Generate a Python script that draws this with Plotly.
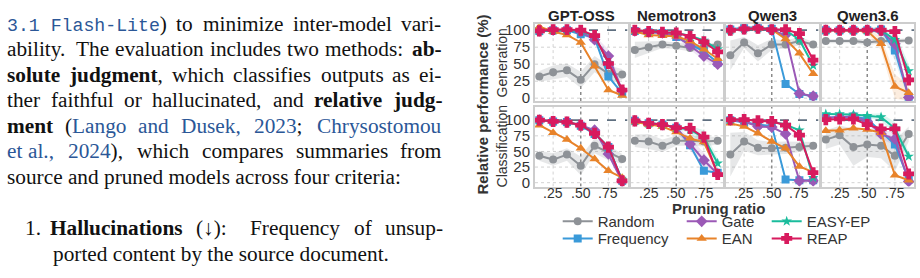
import plotly.graph_objects as go

W, H = 920, 278

# ---------------- data ----------------
ratios = [0.125, 0.25, 0.375, 0.5, 0.625, 0.75, 0.875]
models = ["GPT-OSS", "Nemotron3", "Qwen3", "Qwen3.6"]
methods = ["Random", "Frequency", "Gate", "EAN", "EASY-EP", "REAP"]
x_ticks = [0.25, 0.5, 0.75]
x_tick_text = [".25", ".50", ".75"]
y_ticks = [0, 25, 50, 75, 100]
y_tick_text = ["0", "25", "50", "75", "100"]
row_labels = ["Generation", "Classification"]
reference_level = 100
highlight_ratio = 0.5

gen_gpt_oss = {
    "Random": [32, 38, 41, 27, 50, 36, 35],
    "Frequency": [99, 100, 100, 94, 89, 32, 7],
    "Gate": [99, 100, 100, 98, 86, 62, 11],
    "EAN": [105, 98, 93, 82, 47, 12, 4],
    "EASY-EP": [99, 100, 100, 99, 91, 52, 10],
    "REAP": [99, 101, 101, 100, 92, 51, 12],
}
gen_nemotron = {
    "Random": [71, 75, 79, 77, 74, 76, 79],
    "Frequency": [99, 97, 96, 90, 80, 69, 52],
    "Gate": [99, 97, 96, 92, 77, 62, 50],
    "EAN": [98, 93, 92, 91, 84, 72, 58],
    "EASY-EP": [100, 98, 97, 96, 92, 85, 72],
    "REAP": [100, 98, 97, 96, 91, 83, 68],
}
gen_qwen3 = {
    "Random": [63, 82, 66, 79, 79, 84, 79],
    "Frequency": [101, 104, 104, 102, 21, 6, 3],
    "Gate": [100, 102, 103, 100, 93, 7, 3],
    "EAN": [100, 102, 103, 101, 87, 66, 36],
    "EASY-EP": [100, 102, 103, 101, 100, 86, 48],
    "REAP": [100, 102, 103, 101, 101, 95, 56],
}
gen_qwen36 = {
    "Random": [84, 84, 84, 82, 84, 84, 85],
    "Frequency": [100, 100, 100, 100, 101, 70, 2],
    "Gate": [100, 100, 100, 100, 99, 80, 1],
    "EAN": [100, 100, 100, 99, 80, 17, 8],
    "EASY-EP": [100, 100, 100, 100, 100, 86, 40],
    "REAP": [100, 100, 100, 100, 100, 98, 27],
}
cls_gpt_oss = {
    "Random": [43, 37, 45, 27, 59, 48, 38],
    "Frequency": [100, 98, 97, 91, 78, 57, 3],
    "Gate": [100, 98, 97, 92, 84, 46, 2],
    "EAN": [92, 80, 69, 55, 38, 19, 8],
    "EASY-EP": [100, 98, 97, 92, 80, 57, 4],
    "REAP": [100, 98, 97, 92, 79, 57, 3],
}
cls_nemotron = {
    "Random": [67, 66, 59, 67, 67, 66, 67],
    "Frequency": [99, 95, 93, 88, 60, 19, 16],
    "Gate": [99, 95, 93, 88, 62, 36, 14],
    "EAN": [97, 93, 90, 81, 71, 65, 15],
    "EASY-EP": [99, 95, 93, 88, 85, 72, 31],
    "REAP": [99, 95, 93, 88, 87, 73, 13],
}
cls_qwen3 = {
    "Random": [45, 66, 56, 55, 56, 57, 59],
    "Frequency": [100, 96, 93, 91, 5, 4, 4],
    "Gate": [100, 98, 90, 89, 78, 3, 3],
    "EAN": [95, 90, 79, 66, 55, 26, 17],
    "EASY-EP": [101, 101, 99, 98, 93, 84, 8],
    "REAP": [101, 101, 99, 98, 92, 76, 16],
}
cls_qwen36 = {
    "Random": [69, 76, 57, 61, 59, 43, 78],
    "Frequency": [104, 105, 106, 102, 82, 61, 5],
    "Gate": [104, 105, 106, 98, 78, 70, 2],
    "EAN": [83, 84, 87, 85, 80, 12, 4],
    "EASY-EP": [110, 110, 109, 107, 105, 87, 42],
    "REAP": [101, 102, 102, 93, 86, 86, 14],
}

# band half-widths (spread across runs)
band_gen = {
    ("GPT-OSS", "Random"): [8, 10, 10, 12, 12, 12, 8],
    ("Nemotron3", "Random"): [12, 8, 5, 5, 5, 4, 3],
    ("Qwen3", "Random"): [22, 8, 12, 8, 6, 6, 4],
    ("Qwen3.6", "Random"): [3, 3, 3, 4, 3, 3, 3],
    ("GPT-OSS", "Gate"): [0, 0, 0, 2, 6, 10, 4],
    ("Nemotron3", "Gate"): [0, 0, 0, 3, 6, 6, 4],
    ("Qwen3.6", "EAN"): [0, 0, 0, 3, 10, 18, 12],
    ("Qwen3.6", "EASY-EP"): [0, 0, 0, 2, 6, 12, 10],
    ("Qwen3.6", "Frequency"): [0, 0, 0, 2, 5, 15, 5],
}
band_cls = {
    ("GPT-OSS", "Random"): [8, 10, 10, 15, 12, 12, 8],
    ("Nemotron3", "Random"): [10, 12, 10, 8, 8, 8, 6],
    ("Qwen3", "Random"): [35, 15, 12, 10, 10, 8, 6],
    ("Qwen3.6", "Random"): [15, 15, 30, 20, 20, 25, 12],
    ("Nemotron3", "Gate"): [0, 0, 0, 4, 10, 12, 6],
    ("Nemotron3", "EASY-EP"): [0, 0, 0, 2, 6, 12, 8],
    ("Qwen3.6", "EASY-EP"): [0, 0, 0, 3, 6, 10, 8],
    ("Qwen3.6", "Gate"): [0, 0, 0, 4, 8, 10, 4],
}

rows = [
    {"GPT-OSS": gen_gpt_oss, "Nemotron3": gen_nemotron, "Qwen3": gen_qwen3, "Qwen3.6": gen_qwen36},
    {"GPT-OSS": cls_gpt_oss, "Nemotron3": cls_nemotron, "Qwen3": cls_qwen3, "Qwen3.6": cls_qwen36},
]
bands = [band_gen, band_cls]

# body text of the page (left column); tokens: list of (text, style) runs, style r/b/blue/mono
body_lines = [
    [[("3.1 Flash-Lite", "mono"), (")", "r")], [("to", "r")], [("minimize", "r")],
     [("inter-model", "r")], [("vari-", "r")]],
    [[("ability.", "r")], [("The", "r")], [("evaluation", "r")], [("includes", "r")],
     [("two", "r")], [("methods:", "r")], [("ab-", "b")]],
    [[("solute", "b")], [("judgment", "b"), (",", "r")], [("which", "r")], [("classifies", "r")],
     [("outputs", "r")], [("as", "r")], [("ei-", "r")]],
    [[("ther", "r")], [("faithful", "r")], [("or", "r")], [("hallucinated,", "r")],
     [("and", "r")], [("relative", "b")], [("judg-", "b")]],
    [[("ment", "b")], [("(", "r"), ("Lango", "blue")], [("and", "blue")], [("Dusek,", "blue")],
     [("2023", "blue"), (";", "r")], [("Chrysostomou", "blue")]],
    [[("et", "blue")], [("al.,", "blue")], [("2024", "blue"), ("),", "r")], [("which", "r")],
     [("compares", "r")], [("summaries", "r")], [("from", "r")]],
    [[("source and pruned models across four criteria:", "r")]],
    [[("Hallucinations", "b")], [("(↓):", "r")], [("Frequency", "r")], [("of", "r")],
     [("unsup-", "r")]],
    [[("ported content by the source document.", "r")]],
]
item_number = "1."

# ---------------- styles ----------------
colors = {"Random": "#8e9297", "Frequency": "#3a9ad9", "Gate": "#9b59b6",
          "EAN": "#e8832a", "EASY-EP": "#1abc9c", "REAP": "#d81b5e"}
fills = {"Random": "rgba(142,146,151,0.22)", "Frequency": "rgba(58,154,217,0.15)",
         "Gate": "rgba(155,89,182,0.15)", "EAN": "rgba(232,131,42,0.15)",
         "EASY-EP": "rgba(26,188,156,0.15)", "REAP": "rgba(216,27,94,0.15)"}
symbols = {"Random": "circle", "Frequency": "square", "Gate": "diamond",
           "EAN": "triangle-up", "EASY-EP": "star", "REAP": "cross"}
msize = {"Random": 8, "Frequency": 8, "Gate": 9, "EAN": 9, "EASY-EP": 8, "REAP": 8}
mline = {"Random": 0, "Frequency": 0, "Gate": 0, "EAN": 0, "EASY-EP": 0, "REAP": 1.5}

col_left = [535, 630.5, 726, 821.5]
col_w = 92.5
row_top = [22, 107]
row_bot = [101, 189]
row_range = [[-4.3, 108.6], [-6.2, 121.3]]
x_range = [0.086, 0.923]
SANS = "Liberation Sans, Arial, sans-serif"
SERIF = "Liberation Serif, Times New Roman, serif"
GRID = dict(color="#d2d2d2", width=1, dash="dot")

legend_cols = [557.7, 681.7, 766.7]
legend_rows = [225, 242.7]
legend_slot = {"Random": (0, 0), "Frequency": (0, 1), "Gate": (1, 0),
               "EAN": (1, 1), "EASY-EP": (2, 0), "REAP": (2, 1)}
legend_names = {m: ("legend" if i == 0 else f"legend{i+1}") for i, m in enumerate(methods)}

fig = go.Figure()
layout = dict(width=W, height=H, margin=dict(l=0, r=0, t=0, b=0),
              paper_bgcolor="white", plot_bgcolor="white",
              font=dict(family=SANS, color="#333333", size=15))
shapes = []
annotations = []

for ri in range(2):
    for ci, model in enumerate(models):
        k = ri * 4 + ci + 1
        xr = "x" if k == 1 else f"x{k}"
        yr = "y" if k == 1 else f"y{k}"
        xa = "xaxis" if k == 1 else f"xaxis{k}"
        ya = "yaxis" if k == 1 else f"yaxis{k}"
        layout[xa] = dict(domain=[col_left[ci] / W, (col_left[ci] + col_w) / W], anchor=yr,
                          range=x_range, tickvals=x_ticks, ticktext=x_tick_text,
                          showticklabels=False, ticks="", showgrid=False, zeroline=False,
                          showline=True, mirror=True, linecolor="#cdcdcd", linewidth=2)
        layout[ya] = dict(domain=[1 - row_bot[ri] / H, 1 - row_top[ri] / H], anchor=xr,
                          range=row_range[ri], tickvals=y_ticks, ticktext=y_tick_text,
                          showticklabels=(ci == 0), ticks="", showgrid=False, zeroline=False,
                          showline=True, mirror=True, linecolor="#cdcdcd", linewidth=2,
                          tickfont=dict(size=15, color="#333333"))
        # grid lines (dotted), drawn beneath the data
        for tv in x_ticks:
            if tv != highlight_ratio:
                shapes.append(dict(type="line", xref=xr, yref=yr, x0=tv, x1=tv,
                                   y0=row_range[ri][0], y1=row_range[ri][1],
                                   layer="below", line=GRID))
        for tv in y_ticks:
            if tv != reference_level:
                shapes.append(dict(type="line", xref=xr, yref=yr, x0=x_range[0], x1=x_range[1],
                                   y0=tv, y1=tv, layer="below", line=GRID))
        shapes.append(dict(type="line", xref=xr, x0=highlight_ratio, x1=highlight_ratio, yref=yr,
                           y0=row_range[ri][0], y1=row_range[ri][1], layer="below",
                           line=dict(color="#8a8a8a", width=1.5, dash="dot")))
        shapes.append(dict(type="line", xref=xr, x0=x_range[0], x1=x_range[1], yref=yr,
                           y0=reference_level, y1=reference_level, layer="below",
                           line=dict(color="#5f6f80", width=1.8, dash="dash")))
        data = rows[ri][model]
        for m in methods:
            key = (model, m)
            if key in bands[ri]:
                sp = bands[ri][key]
                lo = [v - s for v, s in zip(data[m], sp)]
                hi = [v + s for v, s in zip(data[m], sp)]
                fig.add_trace(go.Scatter(x=ratios, y=lo, mode="lines", line=dict(width=0),
                                         showlegend=False, hoverinfo="skip", xaxis=xr, yaxis=yr))
                fig.add_trace(go.Scatter(x=ratios, y=hi, mode="lines", line=dict(width=0),
                                         fill="tonexty", fillcolor=fills[m],
                                         showlegend=False, hoverinfo="skip", xaxis=xr, yaxis=yr))
        for m in methods:
            fig.add_trace(go.Scatter(
                x=ratios, y=data[m], mode="lines+markers", name=m,
                line=dict(color=colors[m], width=2),
                marker=dict(symbol=symbols[m], size=msize[m], color=colors[m],
                            line=dict(color=colors[m], width=mline[m])),
                showlegend=(k == 1), legend=legend_names[m], legendgroup=m,
                xaxis=xr, yaxis=yr))
        if ri == 0:
            annotations.append(dict(text=f"<b>{model}</b>", x=(col_left[ci] + col_w / 2) / W,
                                    y=1 - 12.7 / H, xref="paper", yref="paper", showarrow=False,
                                    xanchor="center", yanchor="middle",
                                    font=dict(size=15, color="#222222", family=SANS)))
        else:
            for tv, tt in zip(x_ticks, x_tick_text):
                annotations.append(dict(text=tt, x=tv, xref=xr, y=1 - 195.5 / H, yref="paper",
                                        showarrow=False, xanchor="center", yanchor="middle",
                                        borderpad=0, borderwidth=0,
                                        font=dict(size=14, color="#333333", family=SANS)))

for m in methods:
    c, r = legend_slot[m]
    layout[legend_names[m]] = dict(x=legend_cols[c] / W, y=1 - legend_rows[r] / H,
                                   xanchor="left", yanchor="middle", xref="paper", yref="paper",
                                   bgcolor="rgba(0,0,0,0)", borderwidth=0,
                                   font=dict(size=15, color="#333333", family=SANS))

annotations.append(dict(text="<b>Relative performance (%)</b>", x=482.5 / W, y=1 - 105 / H,
                        xref="paper", yref="paper", showarrow=False, textangle=-90,
                        xanchor="center", yanchor="middle",
                        font=dict(size=15, color="#333333", family=SANS)))
for ri, lab in enumerate(row_labels):
    annotations.append(dict(text=lab, x=501.7 / W, y=1 - (row_top[ri] + row_bot[ri]) / 2 / H,
                            xref="paper", yref="paper", showarrow=False, textangle=-90,
                            xanchor="center", yanchor="middle",
                            font=dict(size=14, color="#333333", family=SANS)))
annotations.append(dict(text="<b>Pruning ratio</b>", x=718 / W, y=1 - 212 / H,
                        xref="paper", yref="paper", showarrow=False,
                        xanchor="center", yanchor="middle", borderpad=0, borderwidth=0,
                        font=dict(size=15, color="#333333", family=SANS)))

# ---------------- body text layout (justified, Times metrics) ----------------
FS = 21.3           # serif size, px
MONO_CHAR = 10.92   # px per monospace char
MONO_FS = 18.2
BLUE = "#2b5797"
TIMES_R = dict(zip("abcdefghijklmnopqrstuvwxyz",
                   [444, 500, 444, 500, 444, 333, 500, 500, 278, 278, 500, 278, 778, 500, 500,
                    500, 500, 333, 389, 278, 500, 500, 722, 500, 500, 444]))
TIMES_R.update({"C": 667, "D": 722, "F": 556, "L": 611, "T": 611, "H": 722, " ": 250,
                ".": 250, ",": 250, ":": 278, ";": 278, "-": 333, "(": 333, ")": 333, "↓": 500})
TIMES_R.update({d: 500 for d in "0123456789"})
TIMES_B = dict(zip("abcdefghijklmnopqrstuvwxyz",
                   [500, 556, 444, 556, 444, 333, 500, 556, 278, 333, 556, 278, 833, 556, 500,
                    556, 556, 444, 389, 333, 556, 500, 722, 500, 500, 444]))
TIMES_B.update({"H": 778, "-": 333, ",": 250, ".": 250, ":": 333, " ": 250})


def run_width(t, st):
    if st == "mono":
        return len(t) * MONO_CHAR
    table = TIMES_B if st == "b" else TIMES_R
    return sum(table.get(ch, 500) for ch in t) * FS / 1000.0


def run_html(t, st):
    if st == "b":
        return f"<b>{t}</b>"
    if st == "blue":
        return f"<span style='color:{BLUE}'>{t}</span>"
    if st == "mono":
        return (f"<span style='font-family:Liberation Mono;font-size:{MONO_FS}px;"
                f"color:{BLUE}'>{t}</span>")
    return t


def stretch_weight(tok):
    last = tok[-1][0][-1]
    return {".": 3.0, ":": 2.0, ";": 1.5, ",": 1.25}.get(last, 1.0)


line_left = 7.0
line_right = 441.7
baselines = [28.3, 54.6, 80.9, 107.2, 133.5, 159.8, 186.1, 239.0, 265.3]
line_starts = [line_left] * 7 + [50.0, 53.0]
line_ends = [line_right] * 6 + [None, 443.0, None]
fixed_gaps = {(5, 0)}  # tie in "et al."

for li, toks in enumerate(body_lines):
    base = baselines[li]
    ycen = 1 - (base - 0.3375 * FS) / H
    widths = [sum(run_width(t, s) for t, s in tok) for tok in toks]
    xs = []
    if line_ends[li] is None or len(toks) == 1:
        xs = [line_starts[li]]
    else:
        natural = [0.25 * FS + (0.1 * FS if stretch_weight(tok) >= 2 else 0) for tok in toks[:-1]]
        wts = [0.0 if (li, gi) in fixed_gaps else stretch_weight(tok)
               for gi, tok in enumerate(toks[:-1])]
        slack = (line_ends[li] - line_starts[li]) - sum(widths) - sum(natural)
        unit = slack / sum(wts)
        x = line_starts[li]
        for gi, w in enumerate(widths):
            xs.append(x)
            if gi < len(natural):
                x += w + natural[gi] + wts[gi] * unit
    for tok, x in zip(toks, xs):
        annotations.append(dict(text="".join(run_html(t, s) for t, s in tok),
                                x=x / W, y=ycen, xref="paper", yref="paper", showarrow=False,
                                xanchor="left", yanchor="middle", borderpad=0, borderwidth=0,
                                font=dict(size=FS, color="#111111", family=SERIF)))
annotations.append(dict(text=item_number, x=25 / W, y=1 - (baselines[7] - 0.3375 * FS) / H,
                        xref="paper", yref="paper", showarrow=False, xanchor="left",
                        yanchor="middle", borderpad=0, borderwidth=0,
                        font=dict(size=FS, color="#111111", family=SERIF)))

layout["shapes"] = shapes
layout["annotations"] = annotations
fig.update_layout(**layout)
fig.write_html("out.html")
